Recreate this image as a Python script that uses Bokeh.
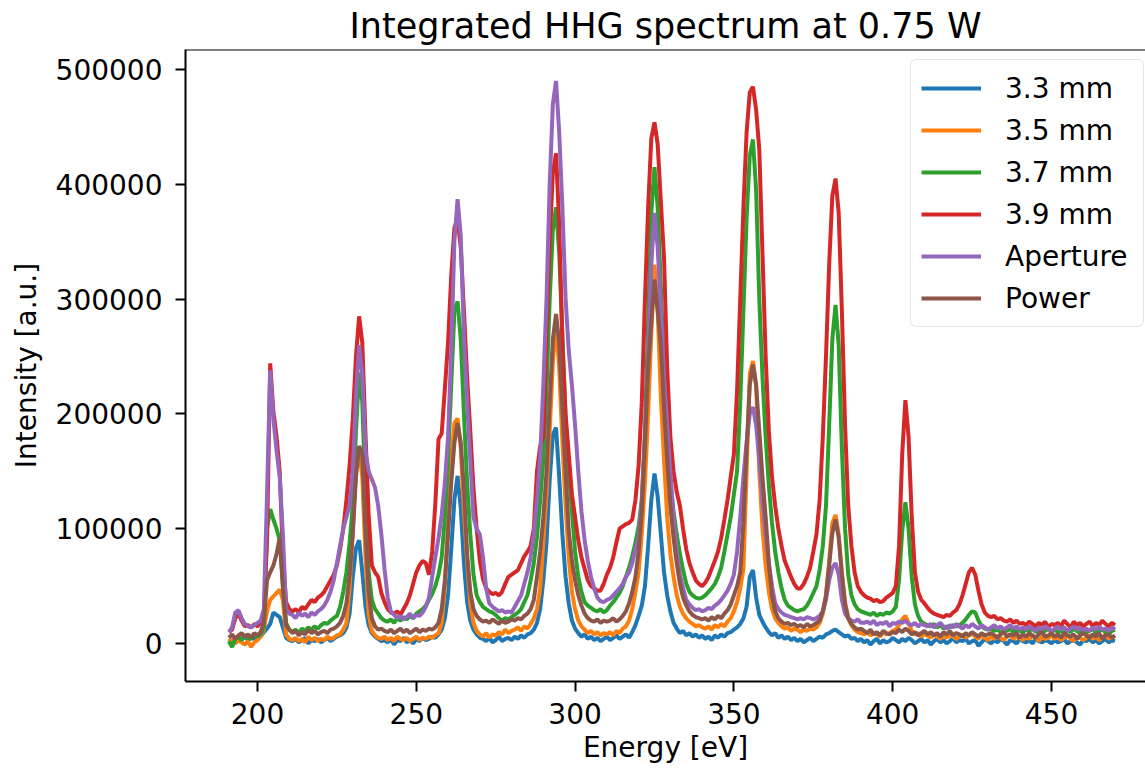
import numpy as np
from bokeh.plotting import figure
from bokeh.models import Range1d, FixedTicker, Span, Legend, LegendItem, ColumnDataSource
from bokeh.embed import file_html
from bokeh.resources import INLINE

# ---------------- data (energy in eV, intensity in units of 1000 a.u.) ----------------
energy_ev = list(range(191, 471))

int_33mm_k = [
    4, 1, 5, 2, 4, 6, 3, 5, 4, 7,
    6, 10, 13, 17, 27, 25, 23, 14, 5, 3,
    2, 4, 1, 3, 5, 0, 3, 2, 4, 1,
    3, 5, 2, 4, 6, 7, 9, 14, 26, 58,
    83, 90, 62, 32, 16, 9, 6, 4, 2, 3,
    1, 4, -1, 3, 2, 5, 1, 3, 0, 4,
    2, 5, 3, 4, 6, 5, 8, 12, 22, 42,
    82, 125, 146, 118, 70, 36, 20, 12, 8, 5,
    4, 2, 5, 1, 3, 6, 2, 4, 5, 3,
    6, 4, 7, 5, 8, 9, 12, 18, 30, 55,
    88, 142, 182, 188, 145, 95, 58, 35, 20, 13,
    9, 6, 8, 4, 6, 3, 5, 2, 4, 6,
    3, 5, 7, 4, 6, 8, 5, 10, 16, 24,
    33, 50, 85, 125, 148, 128, 95, 62, 42, 28,
    18, 13, 9, 11, 7, 9, 6, 8, 5, 7,
    4, 6, 3, 7, 5, 8, 6, 9, 10, 12,
    14, 17, 22, 32, 58, 64, 40, 25, 19, 14,
    10, 7, 9, 5, 7, 4, 6, 3, 5, 2,
    4, 1, 3, 5, 2, 4, 6, 5, 8, 9,
    11, 12, 10, 8, 6, 7, 4, 5, 2, 4,
    1, 3, -1, 2, 4, 0, 3, 1, 2, 5,
    3, 1, 4, 2, 5, 3, 0, 2, 4, 1,
    3, -1, 2, 4, 1, 3, 0, 2, 5, 1,
    3, 2, 4, 0, 2, 3, -2, 1, 4, 2,
    0, 3, 1, 4, 2, -1, 3, 2, 0, 4,
    2, 1, 3, 0, 4, 2, 1, 3, 2, 0,
    3, 1, 2, 4, 0, 2, 3, 1, -1, 3,
    2, 4, 1, 3, 0, 2, 4, 1, 3, 2,
]

int_35mm_k = [
    4, 2, 0, 3, 1, -1, 2, -3, 1, 3,
    6, 12, 28, 38, 41, 44, 47, 38, 8, 4,
    3, 5, 2, 4, 1, 6, 3, 5, 2, 4,
    3, 6, 4, 5, 7, 8, 12, 18, 48, 100,
    150, 169, 145, 75, 26, 11, 7, 5, 4, 6,
    3, 5, 2, 6, 4, 3, 5, 2, 4, 6,
    3, 5, 4, 6, 5, 7, 9, 18, 50, 105,
    160, 192, 196, 170, 115, 72, 35, 18, 11, 8,
    6, 9, 5, 8, 7, 10, 8, 12, 9, 11,
    12, 14, 11, 15, 13, 17, 22, 30, 48, 88,
    130, 185, 245, 278, 240, 175, 120, 75, 45, 30,
    20, 15, 12, 9, 11, 8, 10, 7, 9, 8,
    10, 7, 11, 9, 13, 15, 20, 30, 45, 62,
    95, 140, 200, 270, 330, 290, 215, 160, 110, 78,
    58, 42, 32, 26, 22, 19, 17, 15, 16, 14,
    13, 15, 12, 16, 14, 17, 15, 19, 22, 28,
    36, 48, 65, 150, 235, 246, 225, 150, 100, 68,
    45, 30, 22, 18, 15, 13, 14, 11, 13, 12,
    10, 12, 11, 13, 12, 14, 18, 26, 42, 72,
    105, 112, 95, 62, 36, 22, 16, 12, 10, 9,
    8, 10, 7, 9, 8, 6, 10, 8, 9, 11,
    12, 16, 21, 24, 18, 11, 8, 9, 6, 8,
    7, 5, 8, 6, 4, 7, 5, 8, 6, 4,
    6, 8, 5, 7, 9, 6, 4, 7, 5, 3,
    6, 4, 7, 5, 3, 6, 8, 4, 6, 5,
    3, 6, 4, 7, 5, 2, 6, 4, 5, 7,
    4, 6, 3, 5, 7, 4, 2, 6, 5, 3,
    5, 7, 4, 6, 3, 5, 8, 4, 6, 5,
]

int_37mm_k = [
    2, -3, 4, 6, 3, 7, 5, 4, 8, 6,
    8, 14, 100, 117, 108, 100, 90, 52, 18, 12,
    10, 12, 9, 13, 11, 14, 12, 15, 13, 16,
    18, 17, 20, 22, 24, 32, 45, 62, 88, 120,
    185, 236, 210, 130, 62, 38, 30, 26, 22, 20,
    19, 21, 18, 22, 20, 23, 21, 24, 22, 26,
    28, 30, 33, 38, 43, 50, 60, 75, 110, 160,
    225, 290, 298, 265, 200, 140, 95, 60, 42, 36,
    32, 30, 28, 27, 25, 22, 20, 22, 21, 23,
    25, 27, 30, 36, 42, 55, 70, 93, 125, 160,
    220, 300, 360, 380, 340, 270, 195, 150, 115, 80,
    58, 45, 36, 33, 31, 29, 28, 30, 27, 29,
    33, 36, 40, 44, 50, 58, 66, 76, 88, 102,
    125, 185, 280, 375, 415, 380, 310, 240, 175, 140,
    115, 95, 78, 64, 52, 45, 42, 40, 39, 40,
    42, 45, 48, 52, 58, 66, 80, 95, 110, 130,
    150, 210, 290, 370, 425, 439, 395, 300, 232, 180,
    138, 105, 80, 62, 48, 38, 33, 31, 29, 28,
    29, 30, 33, 38, 44, 50, 64, 85, 120, 190,
    265, 295, 260, 170, 100, 60, 42, 34, 30, 28,
    27, 26, 25, 27, 24, 26, 25, 27, 26, 28,
    32, 55, 98, 123, 100, 58, 34, 24, 19, 17,
    16, 15, 17, 14, 16, 13, 15, 14, 16, 15,
    16, 18, 21, 25, 28, 27, 20, 15, 13, 12,
    13, 11, 12, 10, 12, 11, 13, 10, 12, 11,
    10, 12, 11, 13, 10, 12, 9, 11, 13, 10,
    12, 10, 11, 9, 12, 10, 13, 11, 9, 12,
    10, 11, 13, 9, 11, 12, 10, 8, 11, 12,
]

int_39mm_k = [
    10, 12, 22, 26, 20, 15, 16, 14, 17, 15,
    18, 24, 90, 244, 202, 180, 150, 75, 36, 30,
    28, 30, 27, 32, 30, 34, 38, 36, 40, 42,
    45, 50, 55, 60, 68, 82, 100, 125, 155, 195,
    250, 285, 262, 182, 112, 68, 62, 58, 44, 36,
    30, 27, 26, 28, 25, 30, 35, 42, 52, 62,
    68, 72, 70, 60, 80, 122, 178, 183, 222, 262,
    320, 362, 370, 345, 290, 232, 185, 135, 100, 72,
    56, 48, 45, 43, 44, 42, 45, 52, 58, 60,
    62, 64, 70, 76, 80, 85, 100, 150, 172, 180,
    270, 350, 410, 427, 365, 260, 200, 165, 130, 110,
    90, 75, 65, 55, 50, 48, 46, 46, 52, 60,
    66, 75, 88, 100, 102, 104, 105, 108, 125, 155,
    210, 300, 380, 440, 454, 435, 385, 336, 240, 180,
    150, 132, 120, 100, 82, 70, 62, 55, 52, 50,
    53, 58, 65, 72, 80, 92, 108, 125, 145, 165,
    220, 300, 380, 445, 480, 485, 465, 430, 340, 250,
    185, 145, 120, 100, 85, 72, 65, 58, 52, 48,
    48, 52, 58, 66, 80, 95, 125, 180, 250, 330,
    390, 405, 375, 290, 190, 120, 85, 62, 50, 45,
    42, 40, 39, 37, 38, 36, 37, 40, 42, 44,
    50, 85, 165, 212, 180, 110, 62, 45, 38, 35,
    31, 28, 26, 25, 24, 23, 25, 24, 27, 29,
    34, 42, 52, 62, 66, 60, 46, 34, 27, 24,
    23, 24, 21, 22, 20, 19, 21, 18, 20, 17,
    18, 16, 19, 17, 15, 18, 16, 19, 14, 17,
    16, 18, 15, 20, 17, 14, 19, 16, 18, 15,
    17, 19, 15, 18, 16, 20, 17, 15, 18, 16,
]

int_aperture_k = [
    10, 14, 27, 29, 22, 17, 15, 14, 16, 18,
    20, 30, 130, 238, 195, 168, 145, 95, 30, 26,
    25, 22, 27, 24, 26, 23, 27, 25, 28, 30,
    33, 38, 45, 55, 70, 85, 100, 110, 120, 150,
    215, 260, 235, 168, 150, 143, 136, 120, 95, 65,
    40, 28, 25, 22, 24, 21, 23, 26, 22, 25,
    24, 27, 32, 40, 58, 75, 92, 112, 140, 180,
    255, 350, 387, 355, 268, 210, 160, 110, 100, 95,
    75, 48, 35, 32, 30, 28, 29, 27, 28, 27,
    32, 37, 42, 52, 62, 75, 95, 125, 162, 225,
    300, 400, 470, 490, 445, 380, 301, 255, 225, 190,
    150, 115, 90, 72, 58, 48, 40, 37, 36, 38,
    39, 42, 45, 48, 52, 58, 62, 70, 82, 92,
    125, 180, 250, 330, 375, 345, 290, 232, 190, 150,
    110, 80, 60, 48, 38, 34, 31, 29, 30, 28,
    29, 31, 30, 33, 35, 38, 42, 46, 52, 60,
    80, 110, 145, 175, 200, 206, 190, 160, 125, 95,
    70, 50, 35, 30, 27, 25, 24, 23, 22, 21,
    22, 21, 23, 22, 21, 22, 24, 28, 38, 55,
    66, 70, 60, 38, 26, 22, 20, 19, 21, 18,
    18, 19, 17, 20, 16, 18, 17, 19, 15, 18,
    17, 19, 18, 20, 17, 16, 18, 15, 17, 16,
    15, 17, 14, 16, 18, 15, 13, 16, 14, 17,
    15, 13, 16, 14, 17, 15, 13, 16, 14, 12,
    14, 16, 13, 15, 12, 14, 16, 13, 15, 12,
    14, 12, 15, 13, 11, 14, 12, 15, 13, 11,
    13, 15, 12, 14, 11, 13, 15, 12, 14, 11,
    13, 11, 14, 12, 15, 12, 13, 11, 14, 12,
]

int_power_k = [
    5, 8, 4, 7, 9, 6, 8, 5, 9, 7,
    10, 18, 55, 62, 68, 78, 92, 48, 16, 12,
    9, 11, 7, 10, 8, 12, 9, 11, 8, 10,
    11, 9, 12, 13, 15, 18, 24, 35, 60, 95,
    145, 172, 165, 98, 45, 22, 15, 12, 13, 11,
    10, 12, 9, 11, 13, 10, 12, 9, 11, 13,
    10, 12, 11, 13, 12, 14, 18, 30, 55, 95,
    140, 175, 192, 175, 135, 78, 45, 30, 24, 21,
    19, 20, 18, 21, 19, 17, 20, 18, 19, 21,
    20, 22, 21, 24, 26, 30, 38, 58, 80, 110,
    150, 210, 265, 287, 262, 205, 150, 98, 72, 55,
    42, 33, 26, 22, 20, 19, 21, 18, 20, 19,
    20, 22, 19, 21, 24, 28, 35, 45, 58, 80,
    115, 175, 240, 280, 317, 290, 260, 205, 160, 120,
    92, 70, 52, 40, 33, 28, 25, 23, 22, 21,
    22, 20, 23, 21, 24, 22, 26, 29, 34, 42,
    50, 62, 105, 170, 225, 243, 225, 185, 145, 110,
    70, 42, 28, 22, 19, 17, 18, 16, 17, 15,
    16, 14, 17, 15, 16, 18, 20, 28, 42, 68,
    96, 108, 92, 60, 34, 22, 17, 14, 12, 13,
    11, 9, 12, 8, 10, 7, 11, 9, 8, 10,
    9, 12, 10, 13, 11, 8, 10, 7, 9, 11,
    8, 10, 7, 9, 6, 10, 8, 11, 7, 9,
    8, 6, 9, 7, 10, 8, 6, 9, 7, 8,
    9, 7, 5, 8, 10, 6, 8, 7, 9, 5,
    8, 6, 9, 7, 5, 8, 10, 6, 7, 9,
    6, 8, 5, 9, 7, 6, 8, 4, 7, 9,
    7, 5, 8, 6, 9, 4, 7, 8, 5, 7,
]

series_names = ["3.3 mm", "3.5 mm", "3.7 mm", "3.9 mm", "Aperture", "Power"]
series_values = [int_33mm_k, int_35mm_k, int_37mm_k, int_39mm_k, int_aperture_k, int_power_k]
series_colors = ["#1f77b4", "#ff7f0e", "#2ca02c", "#d62728", "#9467bd", "#8c564b"]

x_ticks = [200, 250, 300, 350, 400, 450]
y_ticks = [0, 100000, 200000, 300000, 400000, 500000]
y_tick_labels = ["0", "100000", "200000", "300000", "400000", "500000"]

title_text = "Integrated HHG spectrum at 0.75 W"
x_label = "Energy [eV]"
y_label = "Intensity [a.u.]"

FONT = "DejaVu Sans"
Y_TOP = 517400

# ---------------- figure ----------------
p = figure(
    width=1145, height=772,
    output_backend="svg", toolbar_location=None,
    x_range=Range1d(177.33, 479.6), y_range=Range1d(-33100, Y_TOP),
    min_border_left=185, min_border_right=0, min_border_top=49, min_border_bottom=91,
    title=title_text,
)
p.background_fill_color = "white"
p.border_fill_color = "white"
p.outline_line_color = None
p.xgrid.visible = False
p.ygrid.visible = False

p.title.align = "center"
p.title.text_font = FONT
p.title.text_font_size = "35px"
p.title.text_font_style = "normal"
p.title.text_color = "black"
p.title.standoff = 7
p.title.offset = 7

for ax in (p.xaxis[0], p.yaxis[0]):
    ax.axis_line_color = "black"
    ax.axis_line_width = 2
    ax.major_tick_line_color = "black"
    ax.major_tick_line_width = 2
    ax.major_tick_out = 10
    ax.major_tick_in = 0
    ax.minor_tick_line_color = None
    ax.major_label_text_font = FONT
    ax.major_label_text_font_size = "28px"
    ax.major_label_text_color = "black"
    ax.axis_label_text_font = FONT
    ax.axis_label_text_font_size = "28px"
    ax.axis_label_text_font_style = "normal"
    ax.axis_label_text_color = "black"

p.xaxis.ticker = FixedTicker(ticks=x_ticks)
p.yaxis.ticker = FixedTicker(ticks=y_ticks)
p.yaxis.major_label_overrides = {t: s for t, s in zip(y_ticks, y_tick_labels)}
p.xaxis.axis_label = x_label
p.yaxis.axis_label = y_label
p.xaxis.major_label_standoff = 11
p.xaxis.axis_label_standoff = 4
p.yaxis.major_label_standoff = 13
p.yaxis.axis_label_standoff = 10

# top spine
p.add_layout(Span(location=Y_TOP, dimension="width", line_color="black", line_width=2))

items = []
x_arr = np.array(energy_ev, dtype=float)
for name, vals, col in zip(series_names, series_values, series_colors):
    src = ColumnDataSource(dict(x=x_arr, y=np.array(vals, dtype=float) * 1000.0))
    r = p.line("x", "y", source=src, line_color=col, line_width=4)
    items.append(LegendItem(label=name, renderers=[r]))

legend = Legend(items=items, location=(725, 354))
legend.label_text_font = FONT
legend.label_text_font_size = "28px"
legend.label_text_color = "black"
legend.glyph_width = 60
legend.glyph_height = 36
legend.label_height = 36
legend.label_width = 128
legend.label_standoff = 24
legend.spacing = 6
legend.padding = 10
legend.margin = 0
legend.border_line_color = "#cccccc"
legend.border_line_width = 1.5
legend.background_fill_color = "white"
legend.background_fill_alpha = 0.8
try:
    legend.border_radius = 6
except Exception:
    pass
p.add_layout(legend)

open("out.html", "w").write(file_html(p, INLINE))
